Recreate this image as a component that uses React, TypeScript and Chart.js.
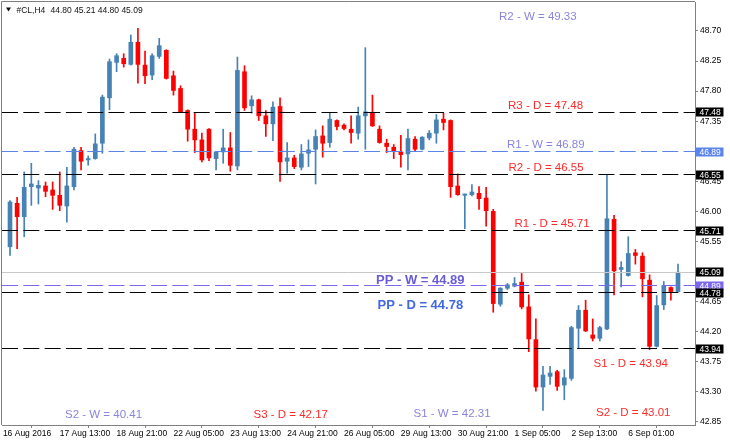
import { useEffect, useRef } from "react";
import { Chart, registerables } from "chart.js";

Chart.register(...registerables);

// ---------- data ----------
const SYMBOL = "#CL,H4";

const OPEN = [
  45.47, 46.12, 45.92, 46.37, 46.35, 46.38, 46.32, 46.24, 46.08, 46.37,
  46.91, 46.77, 46.79, 47.02, 47.7, 48.23, 48.29, 48.2, 48.53, 48.19,
  48.04, 48.32, 48.41, 48.03, 47.84, 47.51, 47.23, 47.07, 47.23, 46.79,
  46.89, 46.95, 46.68, 48.09, 47.58, 47.67, 47.43, 47.31, 47.57, 46.75,
  46.8, 46.66, 46.87, 46.93, 47.13, 47.03, 47.36, 47.29, 47.23, 47.17,
  47.43, 47.48, 47.23, 47.02, 46.96, 46.89, 46.86, 47.08, 46.93, 47.1,
  47.17, 47.38, 47.36, 46.38, 46.24, 46.25, 46.27, 46.2, 46.0, 44.61,
  44.85, 44.88, 44.94, 44.57, 44.08, 43.37, 43.53, 43.6, 43.4, 43.5,
  44.25, 44.52, 44.15, 44.1, 44.24, 45.88, 45.13, 45.04, 45.38, 45.33,
  44.97, 43.98, 44.6, 44.86, 44.8,
];
const HIGH = [
  46.16, 46.21, 46.59, 46.72, 46.46, 46.44, 46.44, 46.59, 46.66, 46.96,
  46.96, 46.83, 47.16, 47.74, 48.28, 48.36, 48.36, 48.64, 48.74, 48.4,
  48.36, 48.59, 48.42, 48.1, 47.88, 47.52, 47.47, 47.17, 47.24, 46.9,
  47.23, 47.18, 48.31, 48.18, 47.73, 47.68, 47.51, 47.64, 47.7, 47.03,
  46.84, 47.0, 47.07, 47.22, 47.28, 47.47, 47.37, 47.31, 47.43, 47.56,
  48.45, 47.74, 47.28, 47.08, 47.0, 47.14, 47.23, 47.12, 47.12, 47.21,
  47.45, 47.47, 47.37, 46.56, 46.26, 46.4, 46.37, 46.36, 46.03, 44.86,
  44.92, 45.01, 45.07, 44.75, 44.39, 43.68, 43.68, 43.62, 43.63, 44.28,
  44.59, 44.67, 44.39, 44.28, 46.54, 45.94, 45.25, 45.62, 45.43, 45.38,
  45.05, 44.74, 44.95, 44.87, 45.21,
];
const LOW = [
  45.34, 45.44, 45.62, 46.09, 46.11, 46.22, 46.03, 46.01, 45.84, 46.32,
  46.62, 46.69, 46.78, 46.87, 47.52, 48.09, 48.16, 48.19, 47.92, 47.91,
  47.97, 48.29, 47.98, 47.74, 47.48, 47.05, 46.88, 46.74, 46.76, 46.62,
  46.72, 46.6, 46.62, 47.51, 47.47, 47.36, 47.12, 47.06, 46.45, 46.57,
  46.64, 46.62, 46.67, 46.41, 46.81, 46.96, 47.22, 47.22, 47.02, 47.08,
  46.93, 47.27, 47.02, 46.88, 46.79, 46.66, 46.62, 46.9, 46.92, 47.07,
  47.02, 47.22, 46.21, 46.24, 45.74, 46.23, 46.03, 45.78, 44.49, 44.58,
  44.83, 44.87, 44.54, 43.9, 43.31, 43.02, 43.41, 43.32, 43.18, 43.47,
  43.95, 44.2, 44.06, 44.06, 44.23, 44.75, 44.87, 45.03, 45.21, 44.72,
  43.93, 43.97, 44.53, 44.67, 44.8,
];
const CLOSE = [
  46.14, 45.92, 46.36, 46.41, 46.39, 46.3, 46.24, 46.09, 46.38, 46.93,
  46.75, 46.79, 47.01, 47.71, 48.24, 48.33, 48.21, 48.53, 48.2, 48.03,
  48.33, 48.48, 47.99, 47.81, 47.49, 47.23, 47.07, 46.77, 46.8, 46.89,
  46.95, 46.69, 48.11, 47.55, 47.67, 47.43, 47.31, 47.56, 46.74, 46.8,
  46.67, 46.86, 46.92, 47.12, 47.02, 47.38, 47.27, 47.24, 47.18, 47.43,
  47.49, 47.28, 47.03, 46.97, 46.9, 46.85, 47.09, 46.93, 47.11, 47.17,
  47.37, 47.33, 46.37, 46.25, 46.26, 46.29, 46.19, 46.01, 44.62, 44.85,
  44.9, 44.92, 44.57, 44.09, 43.37, 43.55, 43.58, 43.38, 43.51, 44.26,
  44.52, 44.21, 44.1, 44.26, 45.89, 45.11, 45.16, 45.37, 45.34, 44.99,
  43.98, 44.59, 44.89, 44.8, 45.09,
];

const X_TICK_INDEX = [-1, 7, 15, 23, 31, 39, 47, 55, 63, 71, 79, 87];
const X_TICK_LABELS = [
  "16 Aug 2016", "17 Aug 13:00", "18 Aug 21:00", "22 Aug 05:00",
  "23 Aug 13:00", "24 Aug 21:00", "26 Aug 05:00", "29 Aug 13:00",
  "30 Aug 21:00", "1 Sep 05:00", "2 Sep 13:00", "6 Sep 01:00",
];
const Y_TICKS = [42.85, 43.3, 43.75, 44.2, 44.65, 45.1, 45.55, 46.0, 46.45, 46.9, 47.35, 47.8, 48.25, 48.7];

// pivot levels
const PIVOT_NAMES = ["R2 - W", "R3 - D", "R1 - W", "R2 - D", "R1 - D", "PP - W", "PP - D", "S1 - D", "S2 - W", "S3 - D", "S1 - W", "S2 - D"];
const PIVOT_VALUES = [49.33, 47.48, 46.89, 46.55, 45.71, 44.89, 44.78, 43.94, 40.41, 42.17, 42.31, 43.01];

// axis ranges
const X_MIN = -1.1257;
const X_MAX = 96.391;
const Y_MIN = 42.802;
const Y_MAX = 49.134;

// ---------- styles ----------
const FONT = "'Liberation Sans', Arial, sans-serif";
const BLUE = "#4682b4";
const RED = "#ff0000";
const AXIS = "#808080";
const TXT_RED = "#ff2a2a";
const TXT_WEEK = "#8a84de";
const LINE_BLUE = "#5b84ea";
const LINE_PURPLE = "#7b68ee";

// which pivots get a horizontal line, and how
const LINE_STYLE: Record<string, string> = {
  "R3 - D": "#000000",
  "R1 - W": LINE_BLUE,
  "R2 - D": "#000000",
  "R1 - D": "#000000",
  "PP - W": LINE_PURPLE,
  "PP - D": "#000000",
  "S1 - D": "#000000",
};

// text layout per pivot: x px, anchor, dy
type TextLayout = { x: number; anchor: "value" | "top" | "bottom"; dy: number; color: string; bold?: boolean };
const TEXT_LAYOUT: Record<string, TextLayout> = {
  "R2 - W": { x: 499, anchor: "top", dy: 18, color: TXT_WEEK },
  "R3 - D": { x: 508, anchor: "value", dy: -3.4, color: TXT_RED },
  "R1 - W": { x: 507, anchor: "value", dy: -3.6, color: TXT_WEEK },
  "R2 - D": { x: 508.5, anchor: "value", dy: -4, color: TXT_RED },
  "R1 - D": { x: 514.5, anchor: "value", dy: -4.2, color: TXT_RED },
  "PP - W": { x: 376, anchor: "value", dy: -1.3, color: "#6a5cd6", bold: true },
  "PP - D": { x: 377.5, anchor: "value", dy: 16.4, color: "#4169e1", bold: true },
  "S1 - D": { x: 593.5, anchor: "value", dy: 17.6, color: TXT_RED },
  "S2 - W": { x: 65, anchor: "bottom", dy: -7.5, color: TXT_WEEK },
  "S3 - D": { x: 253.5, anchor: "bottom", dy: -7.5, color: TXT_RED },
  "S1 - W": { x: 413.5, anchor: "bottom", dy: -8, color: TXT_WEEK },
  "S2 - D": { x: 596, anchor: "bottom", dy: -9, color: TXT_RED },
};

// right-axis price boxes (drawn in this order)
const AXIS_BOX: Record<string, string> = {
  "R3 - D": "#000000",
  "R2 - D": "#000000",
  "R1 - D": "#000000",
  "PP - D": "#000000",
  "S1 - D": "#000000",
  "R1 - W": LINE_BLUE,
  "PP - W": LINE_PURPLE,
};

export default function App() {
  const ref = useRef<HTMLCanvasElement>(null);

  useEffect(() => {
    document.body.style.margin = "0";
    const canvas = ref.current;
    if (!canvas) return;

    const idx = OPEN.map((_, i) => i);
    const colors = idx.map((i) => (CLOSE[i] >= OPEN[i] ? BLUE : RED));
    const bid = CLOSE[CLOSE.length - 1];

    const overlay = {
      id: "mt4overlay",
      afterDatasetsDraw(chart: any) {
        const { ctx, chartArea: a, scales } = chart;
        const y = scales.y;
        ctx.save();
        ctx.beginPath();
        ctx.rect(a.left, a.top, a.right - a.left, a.bottom - a.top);
        ctx.clip();

        // bid line
        const yb = Math.floor(y.getPixelForValue(bid)) + 0.5;
        ctx.strokeStyle = "#c8c8c8";
        ctx.lineWidth = 1;
        ctx.setLineDash([]);
        ctx.beginPath();
        ctx.moveTo(a.left, yb);
        ctx.lineTo(a.right, yb);
        ctx.stroke();

        // pivot lines
        PIVOT_NAMES.forEach((name, k) => {
          const col = LINE_STYLE[name];
          if (!col) return;
          const yy = Math.floor(y.getPixelForValue(PIVOT_VALUES[k])) + 0.5;
          ctx.strokeStyle = col;
          ctx.lineWidth = 1;
          ctx.setLineDash([16, 5.3]);
          ctx.beginPath();
          ctx.moveTo(a.left, yy);
          ctx.lineTo(a.right, yy);
          ctx.stroke();
        });
        ctx.setLineDash([]);

        // pivot texts
        ctx.textBaseline = "alphabetic";
        ctx.textAlign = "left";
        PIVOT_NAMES.forEach((name, k) => {
          const L = TEXT_LAYOUT[name];
          if (!L) return;
          let base: number;
          if (L.anchor === "value") base = y.getPixelForValue(PIVOT_VALUES[k]);
          else if (L.anchor === "top") base = a.top;
          else base = a.bottom;
          ctx.font = L.bold ? `bold 13px ${FONT}` : `11.5px ${FONT}`;
          ctx.fillStyle = L.color;
          ctx.fillText(`${name} = ${PIVOT_VALUES[k].toFixed(2)}`, L.x, base + L.dy);
        });
        ctx.restore();
      },
      afterDraw(chart: any) {
        const { ctx, chartArea: a, scales } = chart;
        const y = scales.y;
        ctx.save();
        // frame (left + top)
        ctx.strokeStyle = AXIS;
        ctx.lineWidth = 1;
        ctx.beginPath();
        ctx.moveTo(1.5, a.bottom);
        ctx.lineTo(1.5, 1.5);
        ctx.lineTo(a.right, 1.5);
        ctx.stroke();

        // title
        ctx.fillStyle = "#111";
        ctx.beginPath();
        ctx.moveTo(6, 7.5);
        ctx.lineTo(11, 7.5);
        ctx.lineTo(8.5, 11.5);
        ctx.closePath();
        ctx.fill();
        ctx.font = `8.5px ${FONT}`;
        ctx.textBaseline = "alphabetic";
        ctx.textAlign = "left";
        const n = CLOSE.length - 1;
        ctx.fillText(SYMBOL, 16.5, 12.5);
        ctx.fillText(
          `${OPEN[n].toFixed(2)} ${HIGH[n].toFixed(2)} ${LOW[n].toFixed(2)} ${CLOSE[n].toFixed(2)}`,
          50.5,
          12.5
        );

        // right axis price boxes
        const box = (value: number, bg: string) => {
          const yy = Math.round(y.getPixelForValue(value));
          ctx.fillStyle = bg;
          ctx.fillRect(a.right + 1, yy - 4.5, 27.5, 9);
          ctx.fillStyle = "#ffffff";
          ctx.font = `8.5px ${FONT}`;
          ctx.textBaseline = "middle";
          ctx.fillText(value.toFixed(2), a.right + 4.5, yy + 0.5);
        };
        box(bid, "#000000");
        PIVOT_NAMES.forEach((name, k) => {
          const bg = AXIS_BOX[name];
          if (bg) box(PIVOT_VALUES[k], bg);
        });
        ctx.restore();
      },
    };

    const noPad = (s: any) => {
      s.paddingLeft = 0;
      s.paddingRight = 0;
      s.paddingTop = 0;
      s.paddingBottom = 0;
    };

    const chart = new Chart(canvas, {
      type: "bar",
      data: {
        datasets: [
          {
            label: "body",
            data: idx.map((i) => ({ x: i, y: [OPEN[i], CLOSE[i]] })) as any,
            backgroundColor: colors,
            barThickness: 4,
            minBarLength: 1,
            grouped: false,
            borderWidth: 0,
          } as any,
          {
            label: "wick",
            data: idx.map((i) => ({ x: i, y: [LOW[i], HIGH[i]] })) as any,
            backgroundColor: colors,
            barThickness: 1,
            minBarLength: 1,
            grouped: false,
            borderWidth: 0,
          } as any,
        ],
      },
      options: {
        responsive: false,
        maintainAspectRatio: false,
        animation: false,
        devicePixelRatio: 1,
        events: [],
        layout: { padding: { left: 2, top: 2, right: 0, bottom: 0 }, autoPadding: false } as any,
        plugins: {
          legend: { display: false },
          tooltip: { enabled: false },
          title: { display: false },
        },
        scales: {
          x: {
            type: "linear",
            min: X_MIN,
            max: X_MAX,
            offset: false,
            afterBuildTicks: (s: any) => {
              s.ticks = X_TICK_INDEX.map((v) => ({ value: v }));
            },
            afterFit: (s: any) => {
              s.height = 19;
              noPad(s);
            },
            ticks: {
              autoSkip: false,
              maxRotation: 0,
              minRotation: 0,
              align: "start",
              padding: 1,
              color: "#000",
              font: { family: FONT, size: 8.5 },
              callback: (_v: any, i: number) => X_TICK_LABELS[i],
            },
            grid: { drawOnChartArea: false, drawTicks: true, tickLength: 3, color: AXIS },
            border: { display: true, color: AXIS },
          } as any,
          y: {
            type: "linear",
            position: "right",
            min: Y_MIN,
            max: Y_MAX,
            afterBuildTicks: (s: any) => {
              s.ticks = Y_TICKS.map((v) => ({ value: v }));
            },
            afterFit: (s: any) => {
              s.width = 35;
              noPad(s);
            },
            ticks: {
              padding: 2,
              color: "#000",
              font: { family: FONT, size: 8.5 },
              callback: (v: any) => Number(v).toFixed(2),
            },
            grid: { drawOnChartArea: false, drawTicks: true, tickLength: 3, color: AXIS },
            border: { display: true, color: AXIS },
          } as any,
        },
      },
      plugins: [overlay],
    });

    return () => chart.destroy();
  }, []);

  return (
    <div style={{ position: "fixed", left: 0, top: 0, width: 730, height: 444, background: "#fff" }}>
      <canvas ref={ref} width={730} height={444} style={{ display: "block", width: 730, height: 444 }} />
    </div>
  );
}
